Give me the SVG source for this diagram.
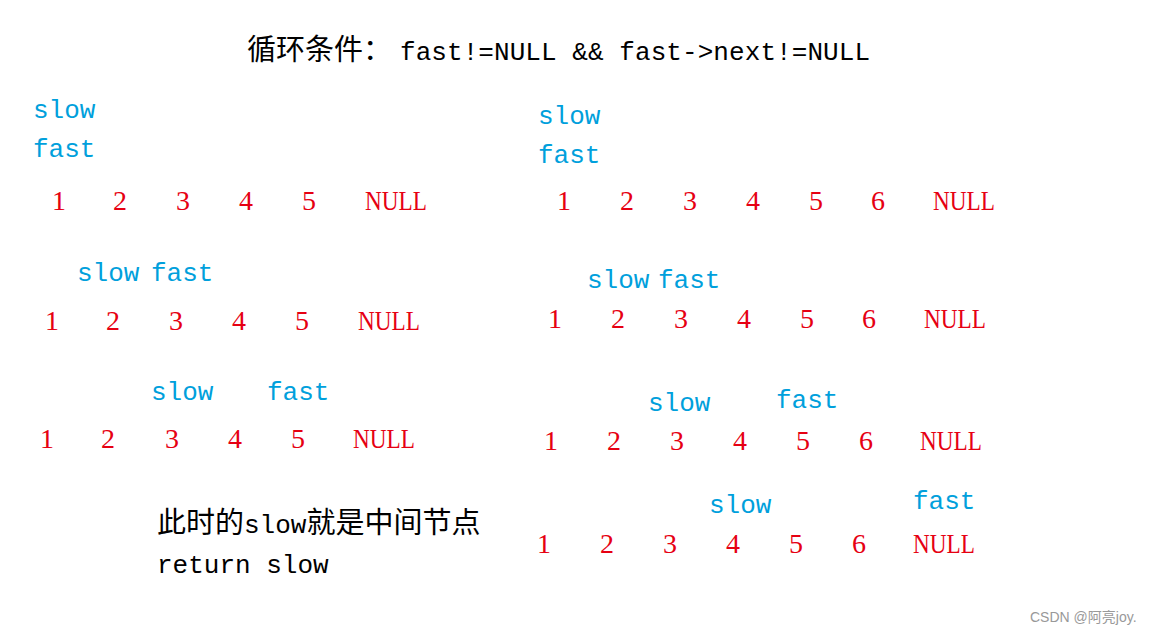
<svg xmlns="http://www.w3.org/2000/svg" width="1156" height="635" viewBox="0 0 1156 635">
<style>
.b{fill:#00a0dc;font-family:"Liberation Mono","Noto Sans CJK SC",monospace;font-size:26px}
.r{fill:#e60012;font-family:"Liberation Serif",serif;font-size:28px}
.k{fill:#000;font-family:"Liberation Mono","Noto Sans CJK SC",monospace;font-size:26px}
.c{font-size:29px}
</style>
<rect width="1156" height="635" fill="#fff"/>
<text class="k" x="247" y="60"><tspan class="c">循环条件：</tspan><tspan x="400" textLength="470">fast!=NULL &amp;&amp; fast-&gt;next!=NULL</tspan></text>
<g class="b">
<text x="33" y="118">slow</text><text x="33" y="157">fast</text>
<text x="77" y="281">slow</text><text x="151" y="281">fast</text>
<text x="151" y="400">slow</text><text x="267" y="400">fast</text>
<text x="538" y="124">slow</text><text x="538" y="163">fast</text>
<text x="587" y="288">slow</text><text x="658" y="288">fast</text>
<text x="648" y="411">slow</text><text x="776" y="408">fast</text>
<text x="709" y="513">slow</text><text x="913" y="509">fast</text>
</g>
<g class="r">
<text x="52" y="210">1</text><text x="113" y="210">2</text><text x="176" y="210">3</text><text x="239" y="210">4</text><text x="302" y="210">5</text><text x="365" y="210" textLength="62" lengthAdjust="spacingAndGlyphs">NULL</text>
<text x="45" y="330">1</text><text x="106" y="330">2</text><text x="169" y="330">3</text><text x="232" y="330">4</text><text x="295" y="330">5</text><text x="358" y="330" textLength="62" lengthAdjust="spacingAndGlyphs">NULL</text>
<text x="40" y="448">1</text><text x="101" y="448">2</text><text x="165" y="448">3</text><text x="228" y="448">4</text><text x="291" y="448">5</text><text x="353" y="448" textLength="62" lengthAdjust="spacingAndGlyphs">NULL</text>
<text x="557" y="210">1</text><text x="620" y="210">2</text><text x="683" y="210">3</text><text x="746" y="210">4</text><text x="809" y="210">5</text><text x="871" y="210">6</text><text x="933" y="210" textLength="62" lengthAdjust="spacingAndGlyphs">NULL</text>
<text x="548" y="328">1</text><text x="611" y="328">2</text><text x="674" y="328">3</text><text x="737" y="328">4</text><text x="800" y="328">5</text><text x="862" y="328">6</text><text x="924" y="328" textLength="62" lengthAdjust="spacingAndGlyphs">NULL</text>
<text x="544" y="450">1</text><text x="607" y="450">2</text><text x="670" y="450">3</text><text x="733" y="450">4</text><text x="796" y="450">5</text><text x="859" y="450">6</text><text x="920" y="450" textLength="62" lengthAdjust="spacingAndGlyphs">NULL</text>
<text x="537" y="553">1</text><text x="600" y="553">2</text><text x="663" y="553">3</text><text x="726" y="553">4</text><text x="789" y="553">5</text><text x="852" y="553">6</text><text x="913" y="553" textLength="62" lengthAdjust="spacingAndGlyphs">NULL</text>
</g>
<text class="k" x="157" y="533"><tspan class="c">此时的</tspan>slow<tspan class="c">就是中间节点</tspan></text>
<text class="k" x="157" y="573">return slow</text>
<text x="1030" y="622" fill="#999" font-family="'Liberation Sans','Noto Sans CJK SC',sans-serif" font-size="14">CSDN @阿亮joy.</text>
</svg>
